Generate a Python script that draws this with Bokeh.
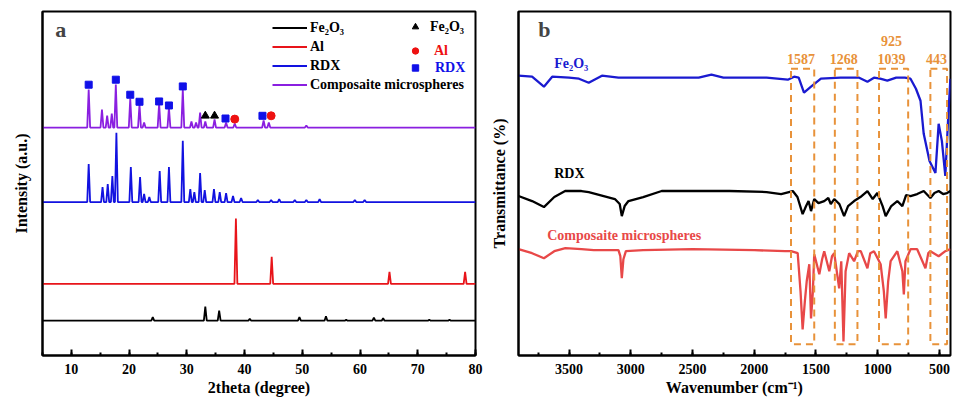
from bokeh.plotting import figure
from bokeh.layouts import row
from bokeh.models import (Range1d, SingleIntervalTicker, FixedTicker, Legend,
                          LegendItem, Label)
from bokeh.embed import file_html
from bokeh.resources import INLINE

# ---------------- Panel a: XRD (2theta, intensity in arbitrary units) ----------------
xrd_fe_base = 34.7
xrd_fe_pos = [24.1, 33.2, 35.6, 40.9, 49.5, 54.1, 57.6, 62.4, 64.0, 72.0, 75.5]
xrd_fe_h = [3.5, 14, 10, 2, 3.5, 4.5, 1, 3, 2.5, 1, 1]

xrd_al_base = 71.5
xrd_al_pos = [38.5, 44.7, 65.1, 78.2]
xrd_al_h = [65, 27, 12, 12]

xrd_rdx_base = 153
xrd_rdx_pos = [13.0, 15.4, 16.3, 17.1, 17.8, 20.3, 21.9, 22.6, 23.5, 25.3, 26.9, 29.3,
               30.6, 31.3, 32.3, 33.1, 34.7, 35.7, 36.8, 38.0, 39.4, 42.3, 44.6, 46.0,
               48.7, 50.7, 53.0, 59.1, 60.8]
xrd_rdx_h = [38, 15, 18, 26, 69, 35, 25, 8, 5, 31, 35, 61,
             13, 10, 29, 12, 13, 10, 9, 6, 4, 2, 2, 3,
             2, 2, 3, 2, 2]

xrd_comp_base = 227.3
xrd_comp_pos = [13.0, 15.3, 16.2, 17.0, 17.7, 20.2, 21.8, 22.6, 25.2, 26.9, 29.3, 30.8,
                31.6, 32.3, 33.2, 34.8, 36.8, 38.3, 43.3, 44.2, 50.7]
xrd_comp_h = [38, 18, 12, 14, 43, 29, 23, 5, 24, 20, 38, 6,
              5, 15, 6, 8, 5, 4, 7, 5, 2]

mark_sq_x = [13.0, 17.7, 20.2, 21.8, 25.2, 26.9, 29.3, 36.7, 43.1]
mark_sq_y = [270, 275, 260, 253, 253.3, 249.3, 268.3, 236.3, 239]
mark_tri_x = [33.2, 34.8]
mark_tri_y = [239, 239]
mark_cir_x = [38.3, 44.6]
mark_cir_y = [235.7, 239]

# ---------------- Panel b: FTIR (wavenumber, transmittance offset) ----------------
ir_fe_w = [3910, 3800, 3704, 3637, 3500, 3420, 3341, 3234, 3100, 2800, 2450, 2347, 2250,
           1900, 1728, 1677, 1640, 1597, 1540, 1460, 1300, 1150, 1083, 1030, 980, 922,
           850, 780, 734, 690, 653, 627, 580, 532, 506, 480, 452, 430, 411]
ir_fe_t = [279, 278, 268, 278, 277, 276, 272, 279, 277, 277, 277, 280, 277,
           277, 275, 278, 277, 262, 268, 276, 277, 277, 273, 277, 276, 274,
           277, 277, 276, 266, 254, 221, 194, 182, 231, 214, 179, 234, 276]

ir_rdx_w = [3910, 3800, 3704, 3620, 3532, 3400, 3341, 3250, 3129, 3090, 3073, 3050, 3019,
            2900, 2750, 2500, 2200, 1900, 1782, 1688, 1650, 1608, 1580, 1560, 1540, 1514,
            1480, 1433, 1400, 1380, 1352, 1310, 1272, 1240, 1191, 1140, 1083, 1040, 1003,
            960, 935, 890, 841, 800, 770, 734, 680, 627, 573, 540, 506, 470, 438, 411]
ir_rdx_t = [159, 154, 148, 158, 164, 164, 163, 160, 156, 151, 139, 149, 154,
            158, 164, 164, 164, 163, 161, 164, 158, 141, 149, 154, 144, 156,
            152, 154, 157, 151, 156, 151, 139, 149, 154, 158, 164, 156, 162,
            149, 139, 149, 154, 149, 160, 159, 161, 164, 157, 162, 164, 161, 162, 164]

ir_comp_w = [3910, 3800, 3704, 3620, 3530, 3400, 3300, 3200, 3100, 3085, 3073, 3060, 3040,
             2900, 2500, 2000, 1750, 1702, 1648, 1625, 1608, 1590, 1575, 1554, 1540, 1525,
             1514, 1473, 1450, 1433, 1392, 1370, 1352, 1312, 1295, 1277, 1260, 1231, 1191,
             1160, 1137, 1083, 1060, 1030, 976, 950, 935, 915, 895, 841, 800, 788, 775,
             734, 680, 613, 590, 573, 506, 452, 411]
ir_comp_t = [106, 102, 97, 104, 107, 106, 105, 105, 105, 99, 77, 96, 104,
             105, 106, 105, 104, 104, 102, 64, 26, 54, 74, 91, 37, 64,
             101, 81, 96, 104, 84, 99, 102, 67, 94, 14, 84, 102, 94,
             104, 104, 87, 102, 104, 91, 64, 37, 74, 94, 104, 84, 61, 94,
             106, 106, 87, 102, 104, 99, 104, 106]

box_left = [1702, 1347, 989, 573]
box_right = [1514, 1164, 753, 438]
box_labels = ["1587", "1268", "1039", "443"]
box_label_x = [1621, 1274, 887, 524]
extra_label = "925"
extra_label_x = 887

FONT = "Liberation Serif"
ORANGE = "#e8923a"


def peak_line(base, pos, h, hw=0.25):
    xs, ys = [5.0], [base]
    for p_, h_ in sorted(zip(pos, h)):
        xs += [p_ - hw, p_, p_ + hw]
        ys += [base, base + h_, base]
    xs.append(80.0)
    ys.append(base)
    return xs, ys


def style(p, xlabel, ylabel, ylabel_standoff):
    p.grid.visible = False
    p.outline_line_color = "black"
    p.outline_line_width = 2
    p.outline_line_alpha = 1
    for ax in (p.xaxis, p.yaxis):
        ax.axis_line_width = 2
        ax.axis_line_color = "black"
        ax.axis_label_text_font = FONT
        ax.axis_label_text_font_style = "bold"
        ax.axis_label_text_font_size = "16px"
        ax.axis_label_text_color = "black"
        ax.major_label_text_font = FONT
        ax.major_label_text_font_style = "bold"
        ax.major_label_text_font_size = "14px"
        ax.major_label_text_color = "black"
        ax.major_tick_in = 6
        ax.major_tick_out = 0
        ax.minor_tick_in = 3
        ax.minor_tick_out = 0
        ax.major_tick_line_width = 2
        ax.minor_tick_line_width = 2
    p.xaxis.axis_label = xlabel
    p.yaxis.axis_label = ylabel
    p.xaxis.major_label_standoff = 8
    p.xaxis.axis_label_standoff = 2
    p.yaxis.ticker = FixedTicker(ticks=[])
    p.yaxis.axis_label_standoff = ylabel_standoff


H = 398

# ---------------- Figure a ----------------
pa = figure(width=487, height=H, x_range=Range1d(5, 80), y_range=Range1d(0, 343),
            output_backend="svg", toolbar_location=None,
            min_border_left=42, min_border_right=12, min_border_top=11, min_border_bottom=10)
style(pa, "2theta (degree)", "Intensity (a.u.)", 13)
pa.xaxis.ticker = SingleIntervalTicker(interval=10, num_minor_ticks=2)

x, y = peak_line(xrd_fe_base, xrd_fe_pos, xrd_fe_h)
r_fe = pa.line(x, y, line_color="black", line_width=1.8)
x, y = peak_line(xrd_al_base, xrd_al_pos, xrd_al_h)
r_al = pa.line(x, y, line_color="#e8141a", line_width=1.8)
x, y = peak_line(xrd_rdx_base, xrd_rdx_pos, xrd_rdx_h)
r_rdx = pa.line(x, y, line_color="#1212e0", line_width=1.8)
x, y = peak_line(xrd_comp_base, xrd_comp_pos, xrd_comp_h)
r_comp = pa.line(x, y, line_color="#8a1fe0", line_width=1.8)

m_tri = pa.scatter(mark_tri_x, mark_tri_y, marker="triangle", size=8,
                   fill_color="black", line_color="black")
m_cir = pa.scatter(mark_cir_x, mark_cir_y, marker="circle", size=8,
                   fill_color="#ee1111", line_color="#ee1111")
m_sq = pa.scatter(mark_sq_x, mark_sq_y, marker="square", size=7,
                  fill_color="#1010e8", line_color="#1010e8")


def mk_legend(items, loc, color, standoff, gw):
    return Legend(items=items, location=loc, glyph_width=gw, glyph_height=17,
                  label_height=17, spacing=2, padding=0, margin=0,
                  border_line_alpha=0, background_fill_alpha=0,
                  label_text_font=FONT, label_text_font_style="bold",
                  label_text_font_size="14px", label_text_color=color,
                  label_standoff=standoff)


pa.add_layout(mk_legend([LegendItem(label="Fe\u2082O\u2083", renderers=[r_fe]),
                         LegendItem(label="Al", renderers=[r_al]),
                         LegendItem(label="RDX", renderers=[r_rdx]),
                         LegendItem(label="Composaite microspheres", renderers=[r_comp])],
                        (230, 262), "black", 3, 35))
pa.add_layout(mk_legend([LegendItem(label="Fe\u2082O\u2083", renderers=[m_tri])],
                        (365, 320), "black", 7, 16))
pa.add_layout(mk_legend([LegendItem(label="Al", renderers=[m_cir])],
                        (365, 296), "#ee1111", 11, 16))
pa.add_layout(mk_legend([LegendItem(label="RDX", renderers=[m_sq])],
                        (365, 279), "#1010e8", 12, 16))

pa.add_layout(Label(x=7.2, y=325, text="a", text_font=FONT, text_font_style="bold",
                    text_font_size="22px", text_baseline="middle"))

# ---------------- Figure b ----------------
pb = figure(width=467, height=H, x_range=Range1d(3910, 410), y_range=Range1d(0, 343),
            output_backend="svg", toolbar_location=None,
            min_border_left=29, min_border_right=4, min_border_top=11, min_border_bottom=10)
style(pb, "Wavenumber (cm\u207b\u00b9)", "Transmittance (%)", 11)
pb.xaxis.ticker = SingleIntervalTicker(interval=500, num_minor_ticks=2)

pb.line(ir_fe_w, ir_fe_t, line_color="#1a1ad0", line_width=2.3)
pb.line(ir_rdx_w, ir_rdx_t, line_color="black", line_width=2.3)
pb.line(ir_comp_w, ir_comp_t, line_color="#e84848", line_width=2.3)

pb.quad(left=box_left, right=box_right, top=[286] * len(box_left), bottom=[11.3] * len(box_left),
        fill_alpha=0, line_color=ORANGE, line_width=2, line_dash="7 5")

for txt, bx in zip(box_labels, box_label_x):
    pb.add_layout(Label(x=bx, y=296, text=txt, text_font=FONT, text_font_style="bold",
                        text_font_size="14px", text_color=ORANGE, text_align="center",
                        text_baseline="middle"))
pb.add_layout(Label(x=extra_label_x, y=314, text=extra_label, text_font=FONT,
                    text_font_style="bold", text_font_size="14px", text_color=ORANGE,
                    text_align="center", text_baseline="middle"))

pb.add_layout(Label(x=3621, y=291, text="Fe\u2082O\u2083", text_font=FONT, text_font_style="bold",
                    text_font_size="14px", text_color="#1a1ad0", text_baseline="middle"))
pb.add_layout(Label(x=3621, y=181, text="RDX", text_font=FONT, text_font_style="bold",
                    text_font_size="14px", text_color="black", text_baseline="middle"))
pb.add_layout(Label(x=3677, y=120, text="Composaite microspheres", text_font=FONT,
                    text_font_style="bold", text_font_size="14px", text_color="#e84848",
                    text_baseline="middle"))
pb.add_layout(Label(x=3750, y=325, text="b", text_font=FONT, text_font_style="bold",
                    text_font_size="22px", text_baseline="middle"))

layout = row(pa, pb)
open("out.html", "w").write(file_html(layout, INLINE))
